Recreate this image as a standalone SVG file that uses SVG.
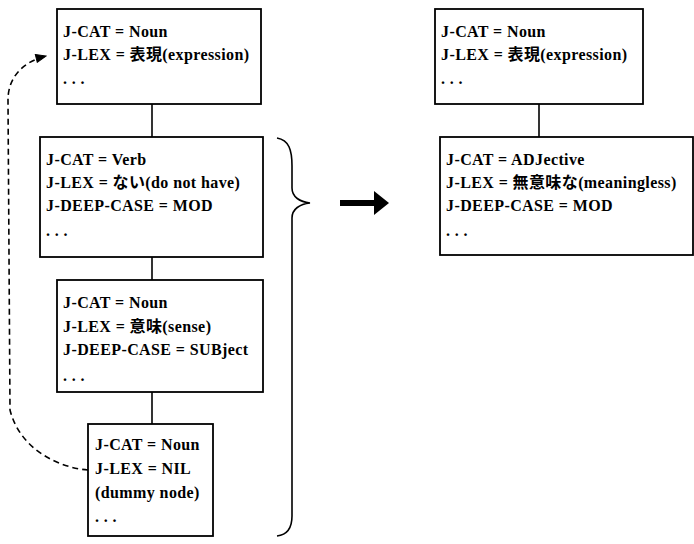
<svg xmlns="http://www.w3.org/2000/svg" width="694" height="544" viewBox="0 0 694 544">
<defs>
<style>
.box{fill:#fff;stroke:#000;stroke-width:1.8}
.t{font-family:"Liberation Serif","Noto Sans CJK JP",serif;font-size:16px;font-weight:bold;letter-spacing:0.4px;fill:#000}
.edge{stroke:#000;stroke-width:1.6;fill:none}
.dash{stroke:#000;stroke-width:1.6;fill:none;stroke-dasharray:6 4}
</style>
<marker id="ah" viewBox="0 0 12 10" refX="11" refY="5" markerWidth="12" markerHeight="10" markerUnits="userSpaceOnUse" orient="auto">
<path d="M1,1 L11,5 L1,9 Z" fill="#000" stroke="#000" stroke-width="1"/>
</marker>
</defs>
<rect width="694" height="544" fill="#fff"/>
<g id="connectors">
<line class="edge" x1="152" y1="104" x2="152" y2="137"/>
<line class="edge" x1="152" y1="257" x2="152" y2="280"/>
<line class="edge" x1="152" y1="392" x2="152" y2="424"/>
<line class="edge" x1="539" y1="104" x2="539" y2="137"/>
<path class="dash" d="M88,470 C60,468 20,450 10,410 L8,100 C8,78 22,62 46,56" marker-end="url(#ah)"/>
<path class="edge" d="M277,138 C289,140 292,150 292,166 L292,188 C292,197 300,202 310,203 C300,204 292,209 292,218 L292,516 C292,530 286,535 277,536"/>
<g id="transform-arrow">
<rect x="340" y="200" width="36" height="6" fill="#000"/>
<polygon points="374,191 389,203 374,215" fill="#000"/>
</g>
</g>
<g id="node-left-1">
<rect class="box" x="57" y="9" width="204" height="95"/>
<text class="t" x="63" y="37">J-CAT = Noun</text>
<text class="t" x="63" y="60">J-LEX = 表現(expression)</text>
<text class="t" x="63" y="84">. . .</text>
</g>
<g id="node-left-2">
<rect class="box" x="40" y="137" width="223" height="120"/>
<text class="t" x="46" y="165">J-CAT = Verb</text>
<text class="t" x="46" y="188">J-LEX = ない(do not have)</text>
<text class="t" x="46" y="211">J-DEEP-CASE = MOD</text>
<text class="t" x="46" y="236">. . .</text>
</g>
<g id="node-left-3">
<rect class="box" x="57" y="280" width="206" height="112"/>
<text class="t" x="63" y="308">J-CAT = Noun</text>
<text class="t" x="63" y="332">J-LEX = 意味(sense)</text>
<text class="t" x="63" y="355">J-DEEP-CASE = SUBject</text>
<text class="t" x="63" y="381">. . .</text>
</g>
<g id="node-left-4">
<rect class="box" x="88" y="424" width="125" height="112"/>
<text class="t" x="95" y="450">J-CAT = Noun</text>
<text class="t" x="95" y="474">J-LEX = NIL</text>
<text class="t" x="95" y="498">(dummy node)</text>
<text class="t" x="95" y="522">. . .</text>
</g>
<g id="node-right-1">
<rect class="box" x="435" y="9" width="208" height="95"/>
<text class="t" x="441" y="37">J-CAT = Noun</text>
<text class="t" x="441" y="60">J-LEX = 表現(expression)</text>
<text class="t" x="441" y="84">. . .</text>
</g>
<g id="node-right-2">
<rect class="box" x="440" y="137" width="253" height="118"/>
<text class="t" x="446" y="165">J-CAT = ADJective</text>
<text class="t" x="446" y="188">J-LEX = 無意味な(meaningless)</text>
<text class="t" x="446" y="211">J-DEEP-CASE = MOD</text>
<text class="t" x="446" y="236">. . .</text>
</g>
</svg>
